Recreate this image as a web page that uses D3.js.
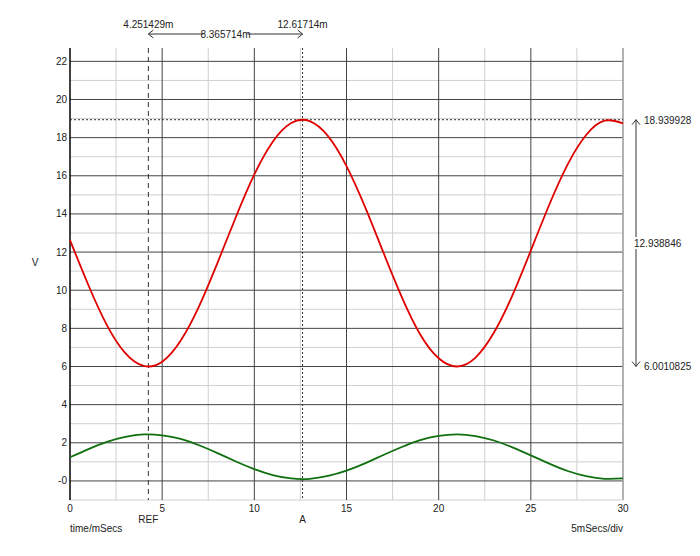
<!DOCTYPE html>
<html><head><meta charset="utf-8">
<script src="https://cdn.jsdelivr.net/npm/d3@7"></script>
<style>body{margin:0;background:#fff}text{font-family:"Liberation Sans",Arial,sans-serif;font-size:10px;fill:#222}</style>
</head><body><div id="container"></div>
<script>
/* DATA */
const times = d3.range(0, 31)
const redV = [12.63,10.26,8.17,6.70,6.03,6.25,7.35,9.15,11.43,13.84,16.07,17.79,18.77,18.87,18.08,16.51,14.38,11.98,9.64,7.68,6.43,6.00,6.47,7.78,9.73,12.08,14.48,16.60,18.14,18.89,18.75]
const greenV = [1.24,1.67,2.05,2.31,2.44,2.39,2.20,1.87,1.46,1.02,0.62,0.31,0.13,0.11,0.26,0.54,0.92,1.36,1.78,2.14,2.36,2.44,2.35,2.12,1.76,1.34,0.91,0.52,0.25,0.11,0.13]
const xTicks = [0,5,10,15,20,25,30]
const yTicks = [0,2,4,6,8,10,12,14,16,18,20,22]
const refT = 4.251429, aT = 12.61714, deltaT = 8.365714
const maxV = 18.939928, minV = 6.0010825, diffV = 12.938846

const width = 700, height = 556
const margin = { top: 48, bottom: 56, left: 70, right: 77 }

const x = d3.scaleLinear().domain([0, 30]).range([margin.left, width - margin.right])
const y = d3.scaleLinear().domain([-1, 22.7]).range([height - margin.bottom, margin.top])

const svg = d3.select("#container").append("svg").attr("width", width).attr("height", height)

// minor grid
svg.append("g").selectAll("line").data(d3.range(2.5, 30, 5)).join("line")
  .attr("x1", d => x(d)).attr("x2", d => x(d)).attr("y1", y(22.7)).attr("y2", y(-1))
  .attr("stroke", "#d0d0d0")
svg.append("g").selectAll("line").data(d3.range(-1, 23, 2)).join("line")
  .attr("x1", x(0)).attr("x2", x(30)).attr("y1", d => y(d)).attr("y2", d => y(d))
  .attr("stroke", "#d0d0d0")
// major grid
svg.append("g").selectAll("line").data(xTicks.slice(1, -1)).join("line")
  .attr("x1", d => x(d)).attr("x2", d => x(d)).attr("y1", y(22.7)).attr("y2", y(-1))
  .attr("stroke", "#444")
svg.append("g").selectAll("line").data(yTicks).join("line")
  .attr("x1", x(0)).attr("x2", x(30)).attr("y1", d => y(d)).attr("y2", d => y(d))
  .attr("stroke", "#444")
svg.append("line").attr("x1", x(30)).attr("x2", x(30)).attr("y1", y(22.7)).attr("y2", y(-1)).attr("stroke", "#999").attr("stroke-width", 1.5)
svg.append("line").attr("x1", x(0)).attr("x2", x(0)).attr("y1", y(22.7)).attr("y2", y(-1)).attr("stroke", "#000").attr("stroke-width", 1.5)

// axis labels
svg.append("g").selectAll("text").data(yTicks).join("text")
  .attr("x", x(0) - 3).attr("y", d => y(d) + 3.5).attr("text-anchor", "end")
  .text(d => d === 0 ? "-0" : d)
svg.append("g").selectAll("text").data(xTicks).join("text")
  .attr("x", d => x(d)).attr("y", y(-1) + 12).attr("text-anchor", "middle").text(d => d)
svg.append("text").attr("x", 35).attr("y", 266).attr("text-anchor", "middle").text("V")
svg.append("text").attr("x", x(0)).attr("y", 532).text("time/mSecs")
svg.append("text").attr("x", x(30)).attr("y", 532).attr("text-anchor", "end").text("5mSecs/div")
svg.append("text").attr("x", x(refT)).attr("y", 523).attr("text-anchor", "middle").text("REF")
svg.append("text").attr("x", x(aT)).attr("y", 523).attr("text-anchor", "middle").text("A")

// cursors
svg.append("line").attr("x1", x(refT)).attr("x2", x(refT)).attr("y1", y(22.7)).attr("y2", y(-1))
  .attr("stroke", "#333").attr("stroke-dasharray", "5,4")
svg.append("line").attr("x1", x(aT)).attr("x2", x(aT)).attr("y1", y(22.7)).attr("y2", y(-1))
  .attr("stroke", "#333").attr("stroke-dasharray", "2,2")
svg.append("line").attr("x1", x(0)).attr("x2", x(30)).attr("y1", y(maxV)).attr("y2", y(maxV))
  .attr("stroke", "#333").attr("stroke-dasharray", "2,2")

// series
const line = d3.line().x((d, i) => x(times[i])).y(d => y(d)).curve(d3.curveNatural)
svg.append("path").datum(redV).attr("d", line).attr("fill", "none").attr("stroke", "#e00000").attr("stroke-width", 1.8)
svg.append("path").datum(greenV).attr("d", line).attr("fill", "none").attr("stroke", "#107010").attr("stroke-width", 1.8)

// top annotation
svg.append("text").attr("x", x(refT)).attr("y", 28).attr("text-anchor", "middle").text(`${refT}m`)
svg.append("text").attr("x", x(aT)).attr("y", 28).attr("text-anchor", "middle").text(`${aT}m`)
svg.append("line").attr("x1", x(refT)).attr("x2", x(aT)).attr("y1", 34).attr("y2", 34).attr("stroke", "#333")
svg.append("path").attr("d", `M${x(refT)+5},30L${x(refT)},34L${x(refT)+5},38M${x(aT)-5},30L${x(aT)},34L${x(aT)-5},38`).attr("fill", "none").attr("stroke", "#333")
svg.append("rect").attr("x", (x(refT)+x(aT))/2 - 22).attr("y", 29).attr("width", 44).attr("height", 10).attr("fill", "#fff")
svg.append("text").attr("x", (x(refT)+x(aT))/2).attr("y", 38).attr("text-anchor", "middle").text(`${deltaT}m`)

// right annotation
const ax = 636
svg.append("line").attr("x1", ax).attr("x2", ax).attr("y1", y(maxV)).attr("y2", y(minV)).attr("stroke", "#333")
svg.append("path").attr("d", `M${ax-4},${y(maxV)+5}L${ax},${y(maxV)}L${ax+4},${y(maxV)+5}M${ax-4},${y(minV)-5}L${ax},${y(minV)}L${ax+4},${y(minV)-5}`).attr("fill", "none").attr("stroke", "#333")
svg.append("text").attr("x", 644).attr("y", y(maxV) + 4).text(maxV)
svg.append("text").attr("x", 644).attr("y", y(minV) + 4).text(minV)
svg.append("rect").attr("x", 630).attr("y", (y(maxV)+y(minV))/2 - 6).attr("width", 58).attr("height", 12).attr("fill", "#fff")
svg.append("text").attr("x", 634).attr("y", (y(maxV)+y(minV))/2 + 4).text(diffV)
</script></body></html>
